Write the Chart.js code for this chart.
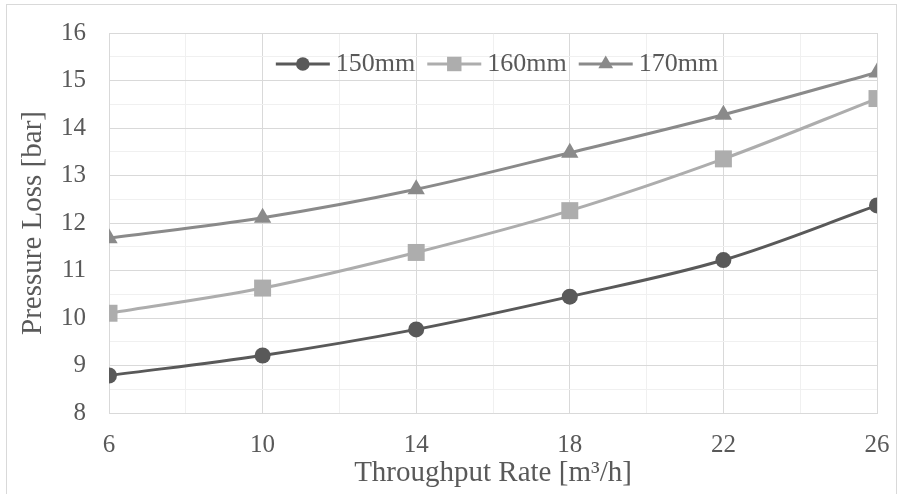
<!DOCTYPE html>
<html>
<head>
<meta charset="utf-8">
<script src="https://cdn.jsdelivr.net/npm/chart.js@4.4.0/dist/chart.umd.min.js"></script>
<style>
  html, body { margin: 0; padding: 0; background: #fff; }
  #wrap { width: 903px; height: 494px; }
</style>
</head>
<body>
<div id="wrap"><canvas id="lossChart" width="903" height="494"></canvas></div>
<script>
// dados
const throughput = [6, 10, 14, 18, 22, 26];
const loss150 = [8.79, 9.21, 9.76, 10.45, 11.22, 12.37];
const loss160 = [10.10, 10.63, 11.38, 12.26, 13.35, 14.62];
const loss170 = [11.68, 12.11, 12.71, 13.48, 14.28, 15.17];
const seriesNames = ["150mm", "160mm", "170mm"];
const xTickLabels = [6, 10, 14, 18, 22, 26];
const yTickLabels = [8, 9, 10, 11, 12, 13, 14, 15, 16];

const serif = "'Liberation Serif', 'Times New Roman', serif";
const textColor = "#595959";
const colors = ["#595959", "#adadad", "#8a8a8a"];
const styles = ["circle", "rect", "triangle"];
const radii = [8, 12, 10];

function toPoints(values) {
  return throughput.map((x, i) => ({ x: x, y: values[i] }));
}

// borda externa clara, como no Excel
const framePlugin = {
  id: "frame",
  beforeDraw(chart) {
    const ctx = chart.ctx;
    ctx.save();
    ctx.fillStyle = "#fff";
    ctx.fillRect(0, 0, chart.width, chart.height);
    ctx.strokeStyle = "#d9d9d9";
    ctx.lineWidth = 1;
    ctx.strokeRect(6.5, 4.5, 890, 500);
    ctx.restore();
  }
};

function drawMarker(ctx, style, x, y, r) {
  ctx.beginPath();
  if (style === "circle") {
    ctx.arc(x, y, r, 0, Math.PI * 2);
  } else if (style === "rect") {
    const s = r * Math.SQRT1_2;
    ctx.rect(x - s, y - s, 2 * s, 2 * s);
  } else {
    const w = r * Math.sqrt(3) / 2;
    ctx.moveTo(x, y - r);
    ctx.lineTo(x + w, y + r / 2);
    ctx.lineTo(x - w, y + r / 2);
    ctx.closePath();
  }
  ctx.fill();
}

// legenda dentro da área do gráfico (linha + marcador)
const insideLegend = {
  id: "insideLegend",
  afterDatasetsDraw(chart) {
    const ctx = chart.ctx;
    const area = chart.chartArea;
    ctx.save();
    ctx.font = "26px " + serif;
    const lineLen = 54, gap = 6, itemGap = 12;
    const widths = seriesNames.map(n => ctx.measureText(n).width);
    const total = widths.reduce((a, w) => a + lineLen + gap + w, 0) + itemGap * (seriesNames.length - 1);
    let x = (area.left + area.right) / 2 - total / 2 + 4;
    const y = area.top + 31;
    seriesNames.forEach((name, i) => {
      ctx.strokeStyle = colors[i];
      ctx.fillStyle = colors[i];
      ctx.lineWidth = 3;
      ctx.beginPath();
      ctx.moveTo(x, y);
      ctx.lineTo(x + lineLen, y);
      ctx.stroke();
      drawMarker(ctx, styles[i], x + lineLen / 2, y, radii[i] * 0.85);
      ctx.fillStyle = textColor;
      ctx.textBaseline = "middle";
      ctx.textAlign = "left";
      ctx.fillText(name, x + lineLen + gap, y);
      x += lineLen + gap + widths[i] + itemGap;
    });
    ctx.restore();
  }
};

const datasets = [loss150, loss160, loss170].map((vals, i) => ({
  label: seriesNames[i],
  data: toPoints(vals),
  borderColor: colors[i],
  backgroundColor: colors[i],
  borderWidth: 3,
  pointStyle: styles[i],
  pointRadius: radii[i],
  pointHoverRadius: radii[i],
  pointBorderWidth: 0,
  tension: 0.35,
  fill: false
}));

// zera o padding extra que o Chart.js reserva para os rótulos
function noScalePadding(s) {
  s.paddingTop = 0;
  s.paddingBottom = 0;
  s.paddingLeft = 0;
  s.paddingRight = 0;
}

new Chart(document.getElementById("lossChart"), {
  type: "line",
  data: { datasets: datasets },
  plugins: [framePlugin, insideLegend],
  options: {
    responsive: false,
    devicePixelRatio: 1,
    animation: false,
    layout: { padding: { left: 6, top: 33, right: 26, bottom: 0 } },
    plugins: {
      legend: { display: false },
      tooltip: { enabled: false }
    },
    scales: {
      x: {
        type: "linear",
        min: 6,
        max: 26,
        afterFit: s => { s.height = 81; noScalePadding(s); },
        afterBuildTicks: s => {
          const t = [];
          for (let v = 6; v <= 26; v += 2) t.push({ value: v });
          s.ticks = t;
        },
        ticks: {
          autoSkip: false,
          maxRotation: 0,
          padding: 17,
          color: textColor,
          font: { family: serif, size: 25 },
          callback: v => xTickLabels.includes(v) ? String(v) : ""
        },
        grid: {
          drawTicks: false,
          lineWidth: 1,
          color: c => xTickLabels.includes(c.tick.value) ? "#d9d9d9" : "#f0f0f0"
        },
        border: { color: "#d9d9d9" },
        title: {
          display: true,
          text: "Throughput Rate [m³/h]",
          color: textColor,
          font: { family: serif, size: 29 },
          padding: { top: 0, bottom: 3 }
        }
      },
      y: {
        min: 8,
        max: 16,
        afterFit: s => { s.width = 103; noScalePadding(s); },
        afterBuildTicks: s => {
          const t = [];
          for (let v = 8; v <= 16; v += 0.5) t.push({ value: v });
          s.ticks = t;
        },
        ticks: {
          autoSkip: false,
          padding: 23,
          color: textColor,
          font: { family: serif, size: 25 },
          callback: v => yTickLabels.includes(v) ? String(v) : ""
        },
        grid: {
          drawTicks: false,
          lineWidth: 1,
          color: c => yTickLabels.includes(c.tick.value) ? "#d9d9d9" : "#f0f0f0"
        },
        border: { color: "#d9d9d9" },
        title: {
          display: true,
          text: "Pressure Loss [bar]",
          color: textColor,
          font: { family: serif, size: 29 },
          padding: { top: 10, bottom: 0 }
        }
      }
    }
  }
});
</script>
</body>
</html>
